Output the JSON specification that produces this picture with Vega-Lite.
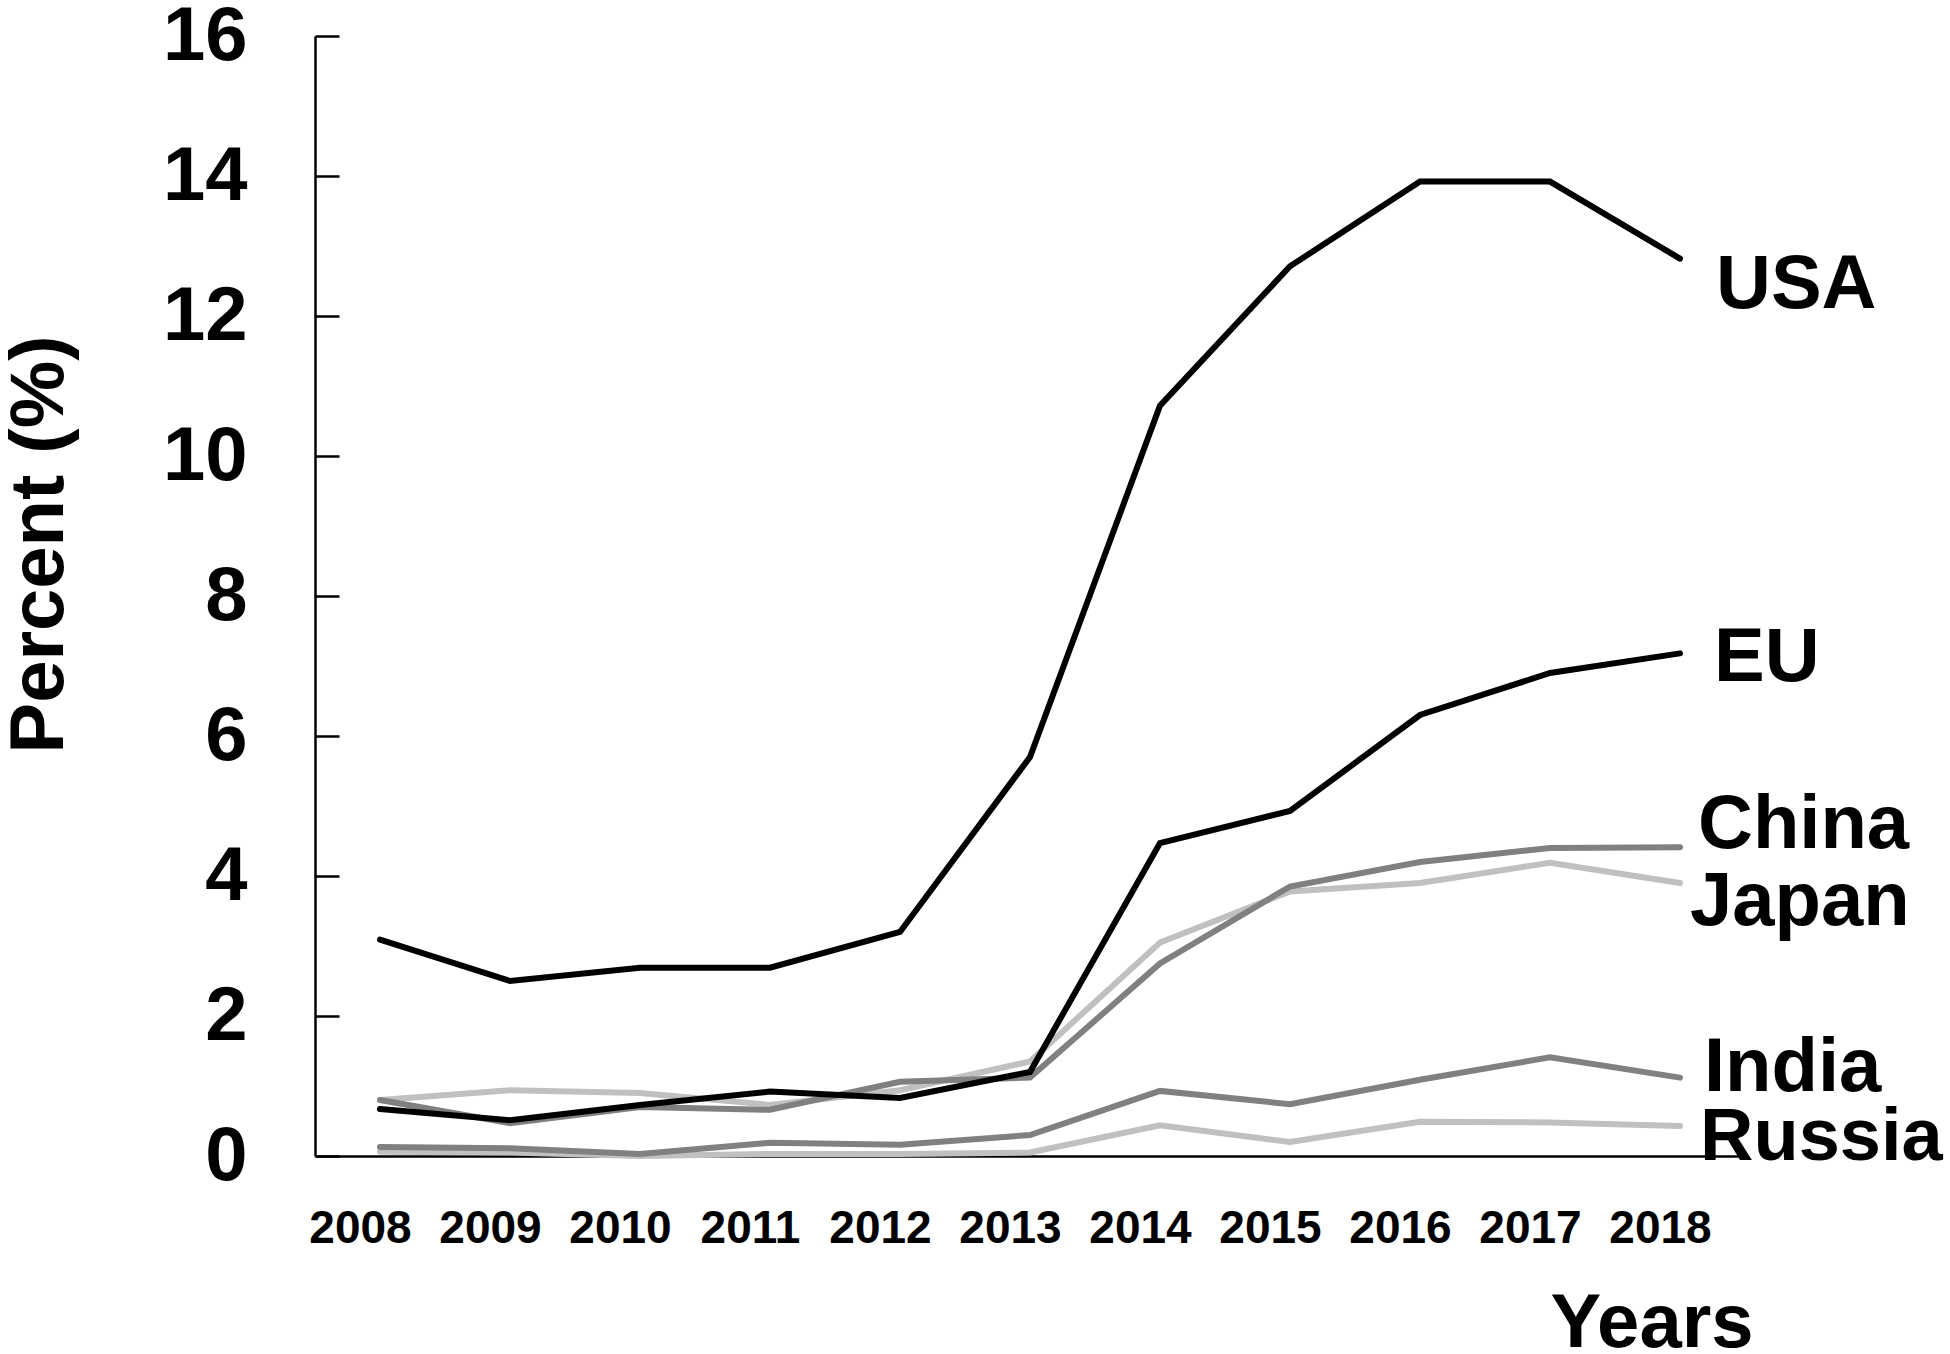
{
  "$schema": "https://vega.github.io/schema/vega-lite/v6.json",
  "width": 1430,
  "height": 1120,
  "autosize": "none",
  "padding": {"left": 315, "top": 36, "right": 205, "bottom": 198},
  "background": "white",
  "config": {
    "view": {"stroke": null},
    "font": "Liberation Sans",
    "text": {"font": "Liberation Sans"}
  },
  "data": {
    "values": [
      {"country": "Russia", "year": 2008, "value": 0.06},
      {"country": "Russia", "year": 2009, "value": 0.05},
      {"country": "Russia", "year": 2010, "value": 0.0},
      {"country": "Russia", "year": 2011, "value": 0.03},
      {"country": "Russia", "year": 2012, "value": 0.03},
      {"country": "Russia", "year": 2013, "value": 0.05},
      {"country": "Russia", "year": 2014, "value": 0.44},
      {"country": "Russia", "year": 2015, "value": 0.2},
      {"country": "Russia", "year": 2016, "value": 0.49},
      {"country": "Russia", "year": 2017, "value": 0.48},
      {"country": "Russia", "year": 2018, "value": 0.43},
      {"country": "Japan", "year": 2008, "value": 0.8},
      {"country": "Japan", "year": 2009, "value": 0.94},
      {"country": "Japan", "year": 2010, "value": 0.9},
      {"country": "Japan", "year": 2011, "value": 0.73},
      {"country": "Japan", "year": 2012, "value": 0.94},
      {"country": "Japan", "year": 2013, "value": 1.35},
      {"country": "Japan", "year": 2014, "value": 3.05},
      {"country": "Japan", "year": 2015, "value": 3.78},
      {"country": "Japan", "year": 2016, "value": 3.9},
      {"country": "Japan", "year": 2017, "value": 4.19},
      {"country": "Japan", "year": 2018, "value": 3.9},
      {"country": "India", "year": 2008, "value": 0.13},
      {"country": "India", "year": 2009, "value": 0.11},
      {"country": "India", "year": 2010, "value": 0.03},
      {"country": "India", "year": 2011, "value": 0.19},
      {"country": "India", "year": 2012, "value": 0.16},
      {"country": "India", "year": 2013, "value": 0.3},
      {"country": "India", "year": 2014, "value": 0.93},
      {"country": "India", "year": 2015, "value": 0.74},
      {"country": "India", "year": 2016, "value": 1.09},
      {"country": "India", "year": 2017, "value": 1.41},
      {"country": "India", "year": 2018, "value": 1.12},
      {"country": "China", "year": 2008, "value": 0.8},
      {"country": "China", "year": 2009, "value": 0.47},
      {"country": "China", "year": 2010, "value": 0.7},
      {"country": "China", "year": 2011, "value": 0.66},
      {"country": "China", "year": 2012, "value": 1.06},
      {"country": "China", "year": 2013, "value": 1.12},
      {"country": "China", "year": 2014, "value": 2.75},
      {"country": "China", "year": 2015, "value": 3.85},
      {"country": "China", "year": 2016, "value": 4.2},
      {"country": "China", "year": 2017, "value": 4.4},
      {"country": "China", "year": 2018, "value": 4.41},
      {"country": "EU", "year": 2008, "value": 0.67},
      {"country": "EU", "year": 2009, "value": 0.51},
      {"country": "EU", "year": 2010, "value": 0.73},
      {"country": "EU", "year": 2011, "value": 0.92},
      {"country": "EU", "year": 2012, "value": 0.83},
      {"country": "EU", "year": 2013, "value": 1.2},
      {"country": "EU", "year": 2014, "value": 4.47},
      {"country": "EU", "year": 2015, "value": 4.93},
      {"country": "EU", "year": 2016, "value": 6.3},
      {"country": "EU", "year": 2017, "value": 6.9},
      {"country": "EU", "year": 2018, "value": 7.18},
      {"country": "USA", "year": 2008, "value": 3.09},
      {"country": "USA", "year": 2009, "value": 2.5},
      {"country": "USA", "year": 2010, "value": 2.69},
      {"country": "USA", "year": 2011, "value": 2.69},
      {"country": "USA", "year": 2012, "value": 3.2},
      {"country": "USA", "year": 2013, "value": 5.7},
      {"country": "USA", "year": 2014, "value": 10.72},
      {"country": "USA", "year": 2015, "value": 12.71},
      {"country": "USA", "year": 2016, "value": 13.92},
      {"country": "USA", "year": 2017, "value": 13.92},
      {"country": "USA", "year": 2018, "value": 12.82}
    ]
  },
  "encoding": {
    "x": {
      "field": "year",
      "type": "quantitative",
      "scale": {"domain": [2007.5, 2018.5], "nice": false, "zero": false},
      "axis": {
        "values": [2008, 2009, 2010, 2011, 2012, 2013, 2014, 2015, 2016, 2017, 2018],
        "format": "d",
        "grid": false,
        "ticks": false,
        "domainColor": "black",
        "domainWidth": 2.5,
        "labelFont": "Liberation Sans",
        "labelFontWeight": "bold",
        "labelFontSize": 46,
        "labelColor": "black",
        "labelBaseline": "alphabetic",
        "labelPadding": 86,
        "labelOffset": -20,
        "labelFlush": false,
        "labelOverlap": false,
        "title": "Years",
        "titleFont": "Liberation Sans",
        "titleFontWeight": "bold",
        "titleFontSize": 76,
        "titleColor": "black",
        "titleAlign": "right",
        "titleAnchor": null,
        "titleBaseline": "alphabetic",
        "titleX": 1438,
        "titleY": 190
      }
    },
    "y": {
      "field": "value",
      "type": "quantitative",
      "scale": {"domain": [0, 16], "nice": false},
      "axis": {
        "values": [0, 2, 4, 6, 8, 10, 12, 14, 16],
        "grid": false,
        "tickSize": -24,
        "tickWidth": 2.5,
        "tickColor": "black",
        "domainColor": "black",
        "domainWidth": 2.5,
        "labelFont": "Liberation Sans",
        "labelFontWeight": "bold",
        "labelFontSize": 76,
        "labelColor": "black",
        "labelPadding": 92,
        "labelFlush": false,
        "labelOverlap": false,
        "title": "Percent (%)",
        "titleFont": "Liberation Sans",
        "titleFontWeight": "bold",
        "titleFontSize": 76,
        "titleColor": "black",
        "titleAngle": 270,
        "titleAlign": "center",
        "titleAnchor": null,
        "titleBaseline": "alphabetic",
        "titleX": -253,
        "titleY": 508
      }
    }
  },
  "layer": [
    {
      "mark": {"type": "line", "strokeWidth": 6, "strokeCap": "round", "strokeJoin": "miter"},
      "encoding": {
        "color": {
          "field": "country",
          "type": "nominal",
          "scale": {
            "domain": ["Russia", "Japan", "India", "China", "EU", "USA"],
            "range": ["#c0c0c0", "#c0c0c0", "#808080", "#808080", "#000000", "#000000"]
          },
          "legend": null
        }
      }
    },
    {
      "transform": [{"filter": "datum.country === 'USA' && datum.year === 2018"}],
      "mark": {"type": "text", "align": "left", "baseline": "middle", "dx": 36, "dy": 26, "fontSize": 76, "fontWeight": "bold", "font": "Liberation Sans", "color": "black"},
      "encoding": {"text": {"field": "country"}}
    },
    {
      "transform": [{"filter": "datum.country === 'EU' && datum.year === 2018"}],
      "mark": {"type": "text", "align": "left", "baseline": "middle", "dx": 34, "dy": 5, "fontSize": 76, "fontWeight": "bold", "font": "Liberation Sans", "color": "black"},
      "encoding": {"text": {"field": "country"}}
    },
    {
      "transform": [{"filter": "datum.country === 'China' && datum.year === 2018"}],
      "mark": {"type": "text", "align": "left", "baseline": "middle", "dx": 18, "dy": -22, "fontSize": 76, "fontWeight": "bold", "font": "Liberation Sans", "color": "black"},
      "encoding": {"text": {"field": "country"}}
    },
    {
      "transform": [{"filter": "datum.country === 'Japan' && datum.year === 2018"}],
      "mark": {"type": "text", "align": "left", "baseline": "middle", "dx": 10, "dy": 19, "fontSize": 76, "fontWeight": "bold", "font": "Liberation Sans", "color": "black"},
      "encoding": {"text": {"field": "country"}}
    },
    {
      "transform": [{"filter": "datum.country === 'India' && datum.year === 2018"}],
      "mark": {"type": "text", "align": "left", "baseline": "middle", "dx": 24, "dy": -10, "fontSize": 76, "fontWeight": "bold", "font": "Liberation Sans", "color": "black"},
      "encoding": {"text": {"field": "country"}}
    },
    {
      "transform": [{"filter": "datum.country === 'Russia' && datum.year === 2018"}],
      "mark": {"type": "text", "align": "left", "baseline": "middle", "dx": 20, "dy": 12, "fontSize": 74, "fontWeight": "bold", "font": "Liberation Sans", "color": "black"},
      "encoding": {"text": {"field": "country"}}
    }
  ]
}
